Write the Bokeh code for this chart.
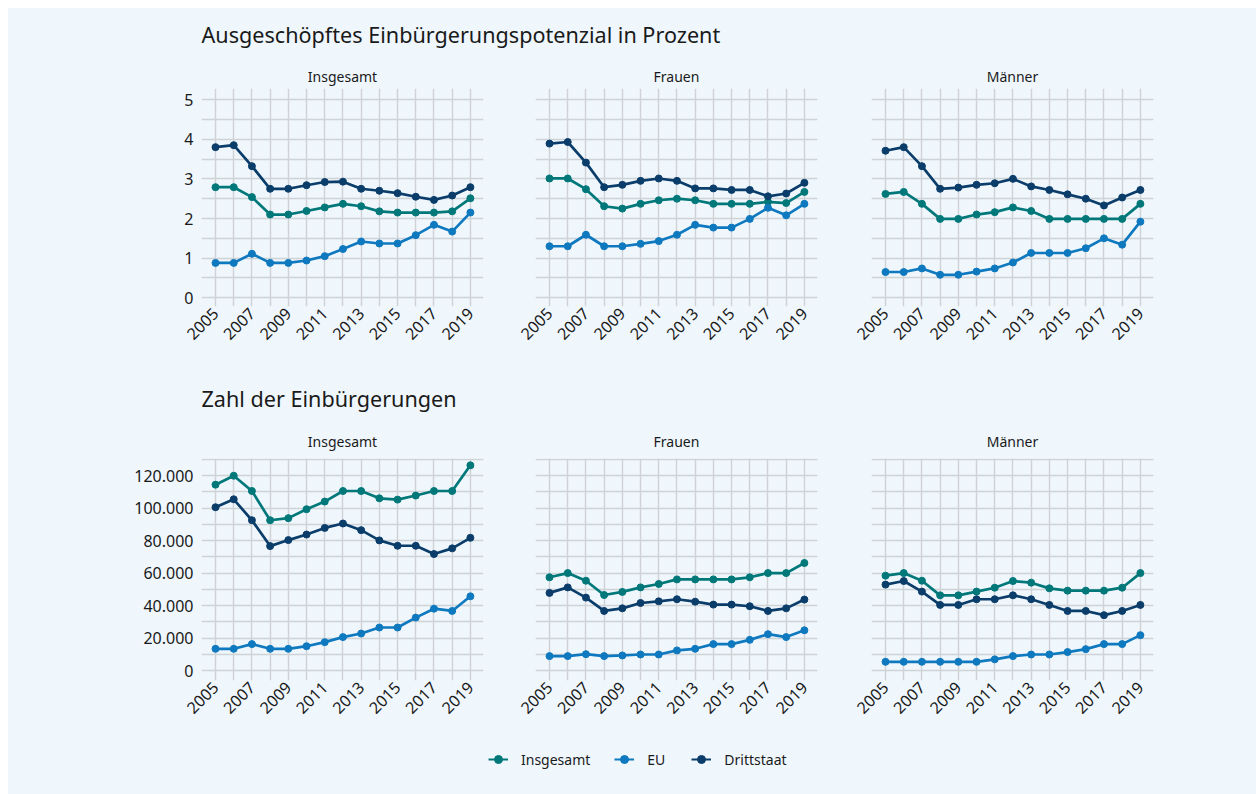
import math
from bokeh.plotting import figure
from bokeh.layouts import column, row
from bokeh.models import (FixedTicker, Range1d, Label, Legend, LegendItem,
                          CustomJSTickFormatter)
from bokeh.embed import file_html
from bokeh.resources import INLINE

# ---------------- data ----------------
years = list(range(2005, 2020))
series_names = ["Insgesamt", "EU", "Drittstaat"]
panel_titles = ["Insgesamt", "Frauen", "Männer"]
title_top = "Ausgeschöpftes Einbürgerungspotenzial in Prozent"
title_bottom = "Zahl der Einbürgerungen"

# Ausgeschöpftes Einbürgerungspotenzial (%)
pct_ins_insg = [2.79, 2.79, 2.54, 2.10, 2.10, 2.19, 2.28, 2.37, 2.31, 2.18, 2.15, 2.15, 2.15, 2.18, 2.51]
pct_ins_eu = [0.88, 0.88, 1.11, 0.88, 0.88, 0.94, 1.05, 1.23, 1.42, 1.37, 1.37, 1.58, 1.84, 1.67, 2.15]
pct_ins_dritt = [3.80, 3.85, 3.32, 2.75, 2.75, 2.84, 2.92, 2.93, 2.75, 2.70, 2.64, 2.55, 2.47, 2.58, 2.79]

pct_fr_insg = [3.01, 3.01, 2.74, 2.31, 2.25, 2.37, 2.46, 2.50, 2.46, 2.37, 2.37, 2.37, 2.42, 2.39, 2.67]
pct_fr_eu = [1.30, 1.30, 1.59, 1.30, 1.30, 1.36, 1.43, 1.59, 1.84, 1.77, 1.77, 1.99, 2.27, 2.08, 2.37]
pct_fr_dritt = [3.89, 3.93, 3.41, 2.79, 2.85, 2.95, 3.01, 2.95, 2.76, 2.76, 2.72, 2.72, 2.56, 2.63, 2.90]

pct_m_insg = [2.62, 2.67, 2.37, 1.99, 1.99, 2.10, 2.16, 2.28, 2.19, 1.99, 1.99, 1.99, 1.99, 1.99, 2.37]
pct_m_eu = [0.65, 0.65, 0.74, 0.58, 0.58, 0.66, 0.74, 0.89, 1.13, 1.13, 1.13, 1.25, 1.50, 1.34, 1.92]
pct_m_dritt = [3.71, 3.80, 3.32, 2.75, 2.78, 2.85, 2.89, 3.00, 2.81, 2.72, 2.61, 2.50, 2.33, 2.53, 2.72]

# Zahl der Einbürgerungen
cnt_ins_insg = [114500, 120000, 110600, 92600, 93900, 99400, 104100, 110600, 110600, 106100, 105300, 107800, 110600, 110600, 126400]
cnt_ins_eu = [13500, 13500, 16400, 13500, 13500, 15100, 17600, 20700, 22900, 26600, 26600, 32700, 38200, 36800, 45800]
cnt_ins_dritt = [100600, 105500, 92600, 76700, 80400, 83800, 87900, 90600, 86500, 80200, 76900, 76900, 71800, 75300, 81800]

cnt_fr_insg = [57500, 60100, 55400, 46600, 48500, 51300, 53400, 56200, 56200, 56200, 56200, 57500, 60100, 60100, 66300]
cnt_fr_eu = [9000, 9000, 10200, 9000, 9400, 10000, 10000, 12500, 13500, 16400, 16400, 19000, 22500, 20700, 24900]
cnt_fr_dritt = [47900, 51300, 45000, 36800, 38400, 41700, 42700, 44000, 42500, 40700, 40700, 39700, 36800, 38400, 43800]

cnt_m_insg = [58500, 60100, 55400, 46400, 46400, 48700, 51100, 55200, 54200, 50700, 49300, 49300, 49300, 51100, 60100]
cnt_m_eu = [5500, 5500, 5500, 5500, 5500, 5500, 7000, 9000, 10000, 10000, 11500, 13300, 16400, 16400, 21900]
cnt_m_dritt = [53000, 55200, 48700, 40500, 40500, 44000, 44000, 46400, 44000, 40500, 36800, 36800, 34200, 36800, 40500]

pct_ticks = [0, 1, 2, 3, 4, 5]
pct_grid = [0, 0.5, 1, 1.5, 2, 2.5, 3, 3.5, 4, 4.5, 5]
cnt_ticks = [0, 20000, 40000, 60000, 80000, 100000, 120000]
cnt_grid = [0, 10000, 20000, 30000, 40000, 50000, 60000, 70000, 80000, 90000, 100000, 110000, 120000, 130000]
year_labels = [2005, 2007, 2009, 2011, 2013, 2015, 2017, 2019]

# ---------------- style ----------------
BG = "#eff7fd"
GRID = "#d0d3d6"
TXT = "#1a1a1a"
FONT = "Noto Sans"
COLORS = ["#00787a", "#0f79bf", "#0b3d6b"]
TICK_SIZE = "16px"

# horizontal borders per column: (left, right)
BORDERS = [(193, 8), (44, 8), (46, 103)]
FRAME_W = 282


def make_panel(col, series, kind):
    left, right = BORDERS[col]
    if kind == "pct":
        yr = Range1d(-0.22, 5.28)
        fh, top, bottom, standoff = 218, 30, 64, 6
    else:
        yr = Range1d(-6000, 130600)
        fh, top, bottom, standoff = 222, 41, 60, 16
    p = figure(frame_width=FRAME_W, frame_height=fh,
               x_range=Range1d(2004.23, 2019.72), y_range=yr,
               output_backend="svg", toolbar_location=None,
               min_border_left=left, min_border_right=right,
               min_border_top=top, min_border_bottom=bottom,
               background_fill_color=BG, border_fill_color=BG,
               outline_line_color=None, title=panel_titles[col])
    p.title.align = "center"
    p.title.text_font = FONT
    p.title.text_font_size = "14px"
    p.title.text_font_style = "normal"
    p.title.text_color = TXT
    p.title.standoff = standoff

    xax = p.xaxis[0]
    yax = p.yaxis[0]
    xax.ticker = FixedTicker(ticks=year_labels)
    xax.major_label_orientation = math.pi / 4
    if kind == "pct":
        yax.ticker = FixedTicker(ticks=pct_ticks)
    else:
        yax.ticker = FixedTicker(ticks=cnt_ticks)
        yax.formatter = CustomJSTickFormatter(
            code="return String(Math.round(tick)).replace(/\\B(?=(\\d{3})+(?!\\d))/g, '.');")
    for ax in (xax, yax):
        ax.axis_line_color = None
        ax.major_tick_line_color = None
        ax.minor_tick_line_color = None
        ax.major_tick_out = 0
        ax.major_tick_in = 0
        ax.major_label_text_font = FONT
        ax.major_label_text_font_size = TICK_SIZE
        ax.major_label_text_color = TXT
    xax.major_label_standoff = 4
    yax.major_label_standoff = 8
    if col != 0:
        yax.major_label_text_alpha = 0

    # grids
    p.xgrid.ticker = FixedTicker(ticks=years)
    p.ygrid.ticker = FixedTicker(ticks=pct_grid if kind == "pct" else cnt_grid)
    for g in (p.xgrid[0], p.ygrid[0]):
        g.grid_line_color = GRID
        g.grid_line_width = 1.5

    for vals, c in zip(series, COLORS):
        p.line(years, vals, line_width=2.7, color=c)
        p.scatter(years, vals, size=7, color=c)
    return p


def make_header(text, height, y):
    h = figure(width=1248, height=height, x_range=Range1d(0, 1), y_range=Range1d(0, 1),
               output_backend="svg", toolbar_location=None, min_border=0,
               x_axis_location=None, y_axis_location=None,
               background_fill_color=BG, border_fill_color=BG, outline_line_color=None)
    h.grid.visible = False
    h.add_layout(Label(x=193, y=y, x_units="screen", y_units="screen", text=text,
                       text_font=FONT, text_font_size="21.6px", text_color=TXT,
                       text_baseline="middle", text_align="left"))
    return h


pct_series = [
    [pct_ins_insg, pct_ins_eu, pct_ins_dritt],
    [pct_fr_insg, pct_fr_eu, pct_fr_dritt],
    [pct_m_insg, pct_m_eu, pct_m_dritt],
]
cnt_series = [
    [cnt_ins_insg, cnt_ins_eu, cnt_ins_dritt],
    [cnt_fr_insg, cnt_fr_eu, cnt_fr_dritt],
    [cnt_m_insg, cnt_m_eu, cnt_m_dritt],
]

STY = {"background-color": BG}
top_row = row([make_panel(i, pct_series[i], "pct") for i in range(3)], spacing=0, styles=STY)
bottom_row = row([make_panel(i, cnt_series[i], "cnt") for i in range(3)], spacing=0, styles=STY)

header1 = make_header(title_top, 50, 24)
header2 = make_header(title_bottom, 47, 19)

# legend figure (renderers lie outside its ranges; only the legend shows)
lf = figure(width=1248, height=54, x_range=Range1d(0, 1), y_range=Range1d(0, 1),
            output_backend="svg", toolbar_location=None, min_border=0,
            x_axis_location=None, y_axis_location=None,
            background_fill_color=BG, border_fill_color=BG, outline_line_color=None)
lf.grid.visible = False
items = []
for name, vals, c in zip(series_names, pct_series[0], COLORS):
    r1 = lf.line(years, vals, line_width=2, color=c)
    r2 = lf.scatter(years, vals, size=6, color=c)
    items.append(LegendItem(label=name, renderers=[r1, r2]))
legend = Legend(items=items, orientation="horizontal", location=(480, 25),
                border_line_color=None, background_fill_alpha=0,
                label_text_font=FONT, label_text_font_size="14px", label_text_color=TXT,
                glyph_width=20, glyph_height=20, label_standoff=13, spacing=24,
                padding=0, margin=0)
lf.add_layout(legend)

layout = column([header1, top_row, header2, bottom_row, lf], spacing=0,
                styles=STY, margin=(8, 0, 0, 8))

with open("out.html", "w") as f:
    f.write(file_html(layout, INLINE))
